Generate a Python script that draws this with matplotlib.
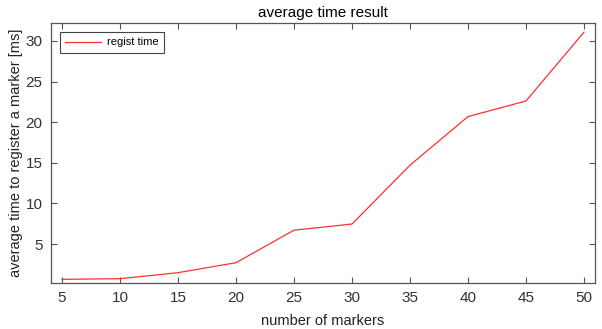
import matplotlib.pyplot as plt

plt.rcParams['font.family'] = ['Liberation Sans', 'DejaVu Sans']

# data
markers = [5, 10, 15, 20, 25, 30, 35, 40, 45, 50]
regist_time = [0.65, 0.73, 1.47, 2.7, 6.7, 7.46, 14.7, 20.68, 22.6, 31.07]
xticks = [5, 10, 15, 20, 25, 30, 35, 40, 45, 50]
yticks = [5, 10, 15, 20, 25, 30]

fig = plt.figure(figsize=(6.02, 3.29), dpi=100)
ax = fig.add_axes([51 / 602, 1 - 283 / 329, 544 / 602, 260 / 329])

ax.plot(markers, regist_time, color='#ff3030', lw=0.9, label='regist time')

ax.set_xlim(4.05, 50.95)
ax.set_ylim(0.2, 32.2)
ax.set_xticks(xticks)
ax.set_yticks(yticks)
ax.tick_params(direction='in', top=True, right=True, length=4,
               color='#555555', labelcolor='#333333', labelsize=11, pad=6)
for s in ax.spines.values():
    s.set_color('#555555')
    s.set_linewidth(0.9)

ax.set_title('average time result', fontsize=11, pad=4)
ax.set_xlabel('number of markers', fontsize=10.5, color='#222222', labelpad=6)
ax.set_ylabel('average time to register a marker [ms]', fontsize=10.5,
              color='#222222', labelpad=2)

leg = ax.legend(loc='upper left', fontsize=8, fancybox=False, framealpha=1,
                edgecolor='#444444', handlelength=3.2, handletextpad=0.5,
                borderpad=0.5, borderaxespad=0.8)
leg.get_frame().set_linewidth(0.8)

fig.savefig('out.png', dpi=100)
